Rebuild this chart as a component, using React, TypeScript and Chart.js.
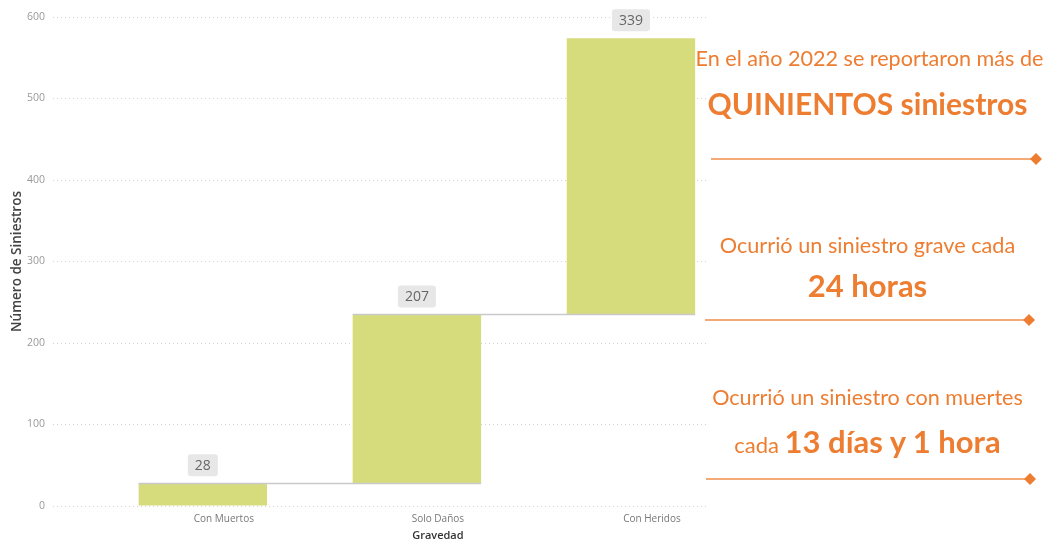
import React, { useEffect, useRef } from 'react';
import { Chart, registerables } from 'chart.js';

Chart.register(...registerables);

// ---- Data ----
const CATEGORIES = ['Con Muertos', 'Solo Daños', 'Con Heridos'];
const VALUES = [28, 207, 339];
const Y_MIN = 0;
const Y_MAX = 600;
const Y_STEP = 100;
const X_TITLE = 'Gravedad';
const Y_TITLE = 'Número de Siniestros';

// running totals for the waterfall
const STARTS: number[] = [];
const ENDS: number[] = [];
VALUES.reduce((acc, v) => {
  STARTS.push(acc);
  ENDS.push(acc + v);
  return acc + v;
}, 0);

const BAR_COLOR = '#D6DC7C';
const ORANGE = '#ED7D31';
const LINE_ORANGE = '#F08C4C';

const waterfallPlugin = {
  id: 'waterfallExtras',
  afterDatasetsDraw(chart: any) {
    const ctx = chart.ctx as CanvasRenderingContext2D;
    const meta = chart.getDatasetMeta(0);
    const ys = chart.scales.y;
    const xs = chart.scales.x;
    ctx.save();
    // connectors
    ctx.strokeStyle = '#c9c9c9';
    ctx.lineWidth = 1.5;
    for (let i = 0; i < meta.data.length - 1; i++) {
      const a = meta.data[i];
      const b = meta.data[i + 1];
      const y = Math.round(ys.getPixelForValue(ENDS[i])) + 0.5;
      ctx.beginPath();
      ctx.moveTo(a.x - a.width / 2, y);
      ctx.lineTo(b.x + b.width / 2, y);
      ctx.stroke();
    }
    // value labels
    ctx.font = '14px "Open Sans"';
    ctx.textAlign = 'center';
    ctx.textBaseline = 'middle';
    meta.data.forEach((bar: any, i: number) => {
      const txt = String(VALUES[i]);
      const top = ys.getPixelForValue(ENDS[i]);
      const w = ctx.measureText(txt).width + 14;
      const h = 22;
      const bottom = top - 7;
      const x0 = bar.x - w / 2;
      const y0 = bottom - h;
      ctx.fillStyle = '#e7e7e7';
      ctx.beginPath();
      (ctx as any).roundRect(x0, y0, w, h, 3);
      ctx.fill();
      ctx.fillStyle = '#666666';
      ctx.fillText(txt, bar.x, y0 + h / 2 + 1);
    });
    // x axis title centred under the middle category label
    ctx.font = '600 11px "Open Sans"';
    ctx.fillStyle = '#333333';
    const mid = (CATEGORIES.length - 1) / 2;
    ctx.fillText(X_TITLE, xs.getPixelForValue(mid) + 21, 536);
    ctx.restore();
  },
};

function ChartCanvas() {
  const ref = useRef<HTMLCanvasElement | null>(null);
  useEffect(() => {
    if (!ref.current) return;
    const chart = new Chart(ref.current, {
      type: 'bar',
      data: {
        datasets: [
          {
            data: VALUES.map((v, i) => ({ x: i, y: [STARTS[i], ENDS[i]] })) as any,
            backgroundColor: BAR_COLOR,
            borderWidth: 0,
            categoryPercentage: 0.6,
            barPercentage: 1,
          },
        ],
      },
      options: {
        animation: false,
        responsive: true,
        maintainAspectRatio: false,
        layout: { padding: { left: 8, right: 337, top: 17, bottom: 0 } },
        plugins: { legend: { display: false }, tooltip: { enabled: false } },
        scales: {
          x: {
            type: 'linear',
            offset: false,
            min: -0.7,
            max: 2.36,
            grid: { display: false, drawTicks: false, offset: false },
            border: { display: false },
            afterBuildTicks: (axis: any) => {
              axis.ticks = CATEGORIES.map((_, i) => ({ value: i }));
            },
            afterFit: (axis: any) => {
              axis.height = 37;
            },
            ticks: {
              autoSkip: false,
              maxRotation: 0,
              labelOffset: 21,
              padding: 7,
              color: '#777777',
              font: { family: 'Open Sans', size: 10 },
              callback: (v: any) => CATEGORIES[v] ?? '',
            },
          },
          y: {
            min: Y_MIN,
            max: Y_MAX,
            grid: { color: '#d2d2d2', lineWidth: 1, drawTicks: false },
            border: { display: false, dash: [1, 3] },
            afterFit: (axis: any) => {
              axis.width = 45;
            },
            ticks: {
              stepSize: Y_STEP,
              padding: 8,
              color: '#9a9a9a',
              font: { family: 'Open Sans', size: 10.5 },
            },
            title: {
              display: true,
              text: Y_TITLE,
              color: '#444444',
              font: { family: 'Open Sans', size: 13.5, weight: 600 },
              padding: { top: 1, bottom: 0 },
            },
          },
        },
      },
      plugins: [waterfallPlugin],
    });
    return () => chart.destroy();
  }, []);
  return <canvas ref={ref} />;
}

const textBase: React.CSSProperties = {
  position: 'absolute',
  left: 690,
  width: 355,
  textAlign: 'center',
  fontFamily: 'Lato, "Open Sans", sans-serif',
  color: ORANGE,
  lineHeight: 1.2,
  whiteSpace: 'nowrap',
};

const RULES = [
  { y: 159, x1: 711, x2: 1036 },
  { y: 320, x1: 705, x2: 1029 },
  { y: 479, x1: 706, x2: 1030 },
];

export default function App() {
  return (
    <div style={{ position: 'absolute', left: 0, top: 0, width: 1045, height: 543, background: '#fff', overflow: 'hidden' }}>
      <div style={{ position: 'absolute', left: 0, top: 0, width: 1045, height: 543 }}>
        <ChartCanvas />
      </div>
      <div style={{ ...textBase, left: 692, top: 45.5, fontSize: 21.6 }}>En el año 2022 se reportaron más de</div>
      <div style={{ ...textBase, top: 84.5, fontSize: 30, fontWeight: 700 }}>QUINIENTOS siniestros</div>
      <div style={{ ...textBase, top: 232, fontSize: 21.7 }}>Ocurrió un siniestro grave cada</div>
      <div style={{ ...textBase, top: 267, fontSize: 31, fontWeight: 700 }}>24 horas</div>
      <div style={{ ...textBase, top: 384.5, fontSize: 21.6 }}>Ocurrió un siniestro con muertes</div>
      <div style={{ ...textBase, top: 423, fontSize: 31, fontWeight: 700 }}>
        <span style={{ fontSize: 22, fontWeight: 400 }}>cada </span>13 días y 1 hora
      </div>
      <svg width={1045} height={543} style={{ position: 'absolute', left: 0, top: 0, pointerEvents: 'none' }}>
        {RULES.map((r, i) => (
          <g key={i}>
            <line x1={r.x1} y1={r.y} x2={r.x2} y2={r.y} stroke={LINE_ORANGE} strokeWidth={1.5} />
            <polygon
              points={`${r.x2},${r.y - 6} ${r.x2 + 6},${r.y} ${r.x2},${r.y + 6} ${r.x2 - 6},${r.y}`}
              fill={ORANGE}
            />
          </g>
        ))}
      </svg>
    </div>
  );
}
